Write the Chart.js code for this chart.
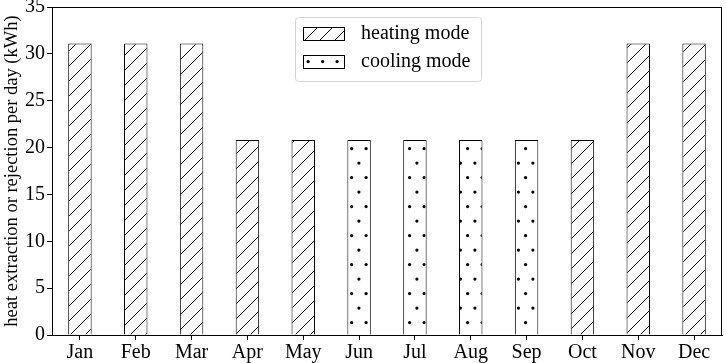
<!DOCTYPE html>
<html>
<head>
<meta charset="utf-8">
<script src="https://cdn.jsdelivr.net/npm/chart.js@4"></script>
<style>
    body { margin: 0; background: #fff; }
    #wrap { width: 726px; height: 363px; }
</style>
</head>
<body>
<div id="wrap"><canvas id="chart" width="726" height="363"></canvas></div>
<script>
const months = ['Jan', 'Feb', 'Mar', 'Apr', 'May', 'Jun', 'Jul', 'Aug', 'Sep', 'Oct', 'Nov', 'Dec'];
const heatingMode = [31.1, 31.1, 31.1, 20.8, 20.8, null, null, null, null, 20.8, 31.1, 31.1];
const coolingMode = [null, null, null, null, null, 20.8, 20.8, 20.8, 20.8, null, null, null];
const yTicks = [0, 5, 10, 15, 20, 25, 30, 35];

const FONT = "'Liberation Serif', 'Times New Roman', serif";

// hatch "//" pattern
function makeHatch() {
    const c = document.createElement('canvas');
    c.width = 15; c.height = 15;
    const g = c.getContext('2d');
    g.fillStyle = '#fff';
    g.fillRect(0, 0, 15, 15);
    g.strokeStyle = '#000';
    g.lineWidth = 1;
    g.beginPath();
    g.moveTo(-2, 17); g.lineTo(17, -2);
    g.moveTo(-2, 2); g.lineTo(2, -2);
    g.moveTo(13, 17); g.lineTo(17, 13);
    g.stroke();
    return g.createPattern(c, 'repeat');
}

// dotted "." pattern
function makeDots() {
    const c = document.createElement('canvas');
    c.width = 29; c.height = 29;
    const g = c.getContext('2d');
    g.fillStyle = '#fff';
    g.fillRect(0, 0, 29, 29);
    g.fillStyle = '#000';
    [[3.6, 3.6], [18.1, 3.6], [10.9, 18.1], [25.4, 18.1]].forEach(([x, y]) => {
        g.beginPath();
        g.arc(x, y, 1.6, 0, Math.PI * 2);
        g.fill();
    });
    return g.createPattern(c, 'repeat');
}

const hatch = makeHatch();
const dots = makeDots();

// frame on all four sides + legend box inside the plot
const framePlugin = {
    id: 'frame',
    afterDraw(chart) {
        const { ctx, chartArea: a } = chart;
        ctx.save();
        ctx.strokeStyle = '#000';
        ctx.lineWidth = 1;
        ctx.strokeRect(a.left + 0.5, a.top + 0.5, a.right - a.left - 1, a.bottom - a.top);

        // legend
        const bx = 295, by = 17, bw = 186, bh = 64;
        ctx.strokeStyle = '#d4d4d4';
        ctx.fillStyle = 'rgba(255,255,255,0.8)';
        ctx.beginPath();
        ctx.roundRect(bx + 0.5, by + 0.5, bw, bh, 3);
        ctx.fill();
        ctx.stroke();

        const items = [
            { label: 'heating mode', fill: hatch, y: 27 },
            { label: 'cooling mode', fill: dots, y: 55 }
        ];
        items.forEach(it => {
            ctx.fillStyle = it.fill;
            ctx.fillRect(303, it.y, 41, 14);
            ctx.strokeStyle = '#000';
            ctx.strokeRect(303.5, it.y + 0.5, 41, 13);
            ctx.fillStyle = '#000';
            ctx.font = '20px ' + FONT;
            ctx.textBaseline = 'middle';
            ctx.textAlign = 'left';
            ctx.fillText(it.label, 361, it.y + 7);
        });
        ctx.restore();
    }
};

const ctx = document.getElementById('chart').getContext('2d');
new Chart(ctx, {
    type: 'bar',
    data: {
        labels: months,
        datasets: [
            {
                label: 'heating mode',
                data: heatingMode,
                backgroundColor: hatch,
                borderColor: '#000',
                borderWidth: 1,
                categoryPercentage: 1,
                barPercentage: 0.42
            },
            {
                label: 'cooling mode',
                data: coolingMode,
                backgroundColor: dots,
                borderColor: '#000',
                borderWidth: 1,
                categoryPercentage: 1,
                barPercentage: 0.42
            }
        ]
    },
    options: {
        responsive: false,
        animation: false,
        layout: { padding: { top: 7, right: 4, left: 0, bottom: 0 } },
        plugins: {
            legend: { display: false },
            tooltip: { enabled: false }
        },
        scales: {
            x: {
                stacked: true,
                grid: { offset: false, drawOnChartArea: false, tickLength: 5, color: '#000' },
                border: { color: '#000' },
                ticks: { color: '#000', font: { family: FONT, size: 20 }, padding: 1 },
                afterFit(scale) { scale.height = 28; scale.paddingLeft = 0; scale.paddingRight = 0; }
            },
            y: {
                stacked: true,
                min: 0,
                max: 35,
                afterBuildTicks(scale) { scale.ticks = yTicks.map(v => ({ value: v })); },
                grid: { drawOnChartArea: false, tickLength: 5, color: '#000' },
                border: { color: '#000' },
                ticks: { color: '#000', font: { family: FONT, size: 20 }, padding: 2 },
                title: {
                    display: true,
                    text: 'heat extraction or rejection per day (kWh)',
                    color: '#000',
                    font: { family: FONT, size: 18.5 },
                    padding: 1
                },
                afterFit(scale) { scale.width = 52; scale.paddingTop = 0; scale.paddingBottom = 0; }
            }
        }
    },
    plugins: [framePlugin]
});
</script>
</body>
</html>
